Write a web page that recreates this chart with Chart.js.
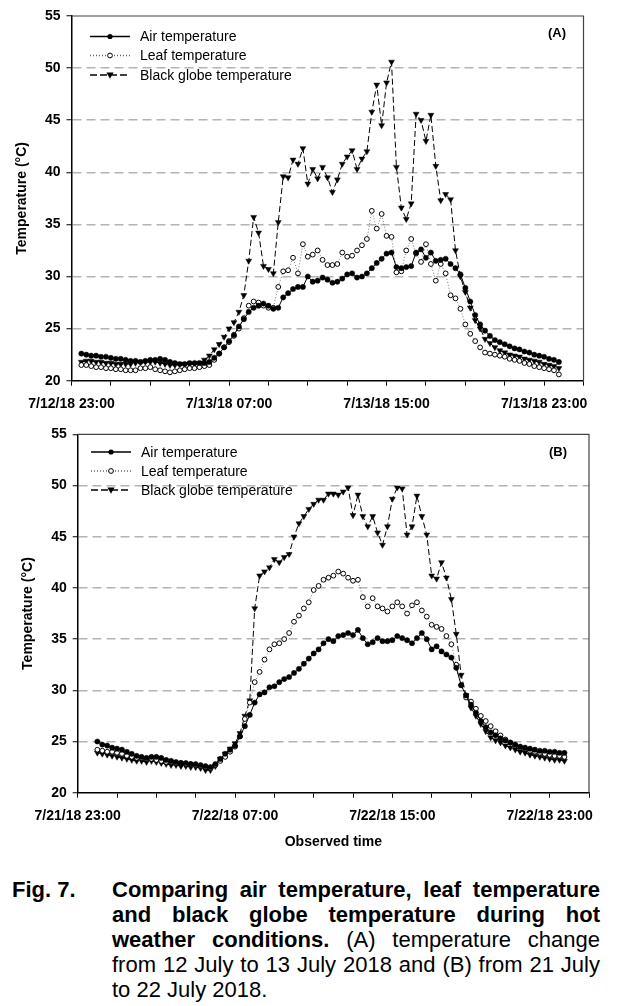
<!DOCTYPE html>
<html>
<head>
<meta charset="utf-8">
<script src="https://cdn.jsdelivr.net/npm/chart.js"></script>
<style>
  body { margin: 0; background: #fff; width: 619px; height: 1006px; position: relative; overflow: hidden; }
  canvas { position: absolute; left: 0; }
  #chartA { top: 0; }
  #chartB { top: 420px; }
  #caption {
    position: absolute; left: 12px; top: 877px; width: 588px;
    font-family: "Liberation Sans", Arial, sans-serif;
    font-size: 22px; line-height: 25px; color: #000;
  }
  #caption .ln { text-align: justify; text-align-last: justify; padding-left: 100px; white-space: nowrap; }
  #caption .ln.first { padding-left: 0; }
  #caption .ln.last { text-align-last: left; }
  #caption .lab { display: inline-block; width: 100px; text-align-last: left; }
</style>
</head>
<body>
<canvas id="chartA" width="619" height="420"></canvas>
<canvas id="chartB" width="619" height="440"></canvas>
<div id="caption">
  <div class="ln first"><b><span class="lab">Fig. 7.</span>Comparing air temperature, leaf temperature</b></div>
  <div class="ln"><b>and black globe temperature during hot</b></div>
  <div class="ln"><b>weather conditions.</b> (A) temperature change</div>
  <div class="ln">from 12 July to 13 July 2018 and (B) from 21 July</div>
  <div class="ln last">to 22 July 2018.</div>
</div>
<script>
// readings every 15 min, hours counted from 23:00 of the first day
const step = 0.25;
const startA = 0.5;
const startB = 1.0;

const seriesNames = ['Air temperature', 'Leaf temperature', 'Black globe temperature'];
const xTickLabelsA = ['7/12/18 23:00', '7/13/18 07:00', '7/13/18 15:00', '7/13/18 23:00'];
const xTickLabelsB = ['7/21/18 23:00', '7/22/18 07:00', '7/22/18 15:00', '7/22/18 23:00'];

// (A) 12-13 July
const airA = [22.6, 22.5,
  22.4, 22.4, 22.3, 22.3,  22.2, 22.1, 22.1, 22.0,  21.9, 21.9, 21.8, 21.9,
  22.0, 22.0, 22.1, 22.0,  21.8, 21.7, 21.6, 21.6,  21.7, 21.7, 21.7, 21.7,
  21.8, 22.2, 22.6, 23.2,  23.8, 24.4, 25.2, 25.9,  26.6, 27.0, 27.2, 27.4,
  27.2, 26.9, 27.0, 28.0,  28.4, 28.8, 29.0, 29.0,  30.0, 29.5, 29.6, 29.9,
  29.7, 29.4, 29.5, 29.8,  30.2, 30.3, 29.9, 30.0,  30.3, 30.8, 31.3, 31.7,
  32.2, 32.3, 30.9, 30.8,  30.9, 31.0, 32.3, 32.6,  31.8, 32.3, 31.5, 31.6,
  31.7, 31.2, 30.8, 30.2,  28.9, 27.6, 26.3, 25.4,  24.8, 24.3, 23.9, 23.7,
  23.5, 23.3, 23.1, 23.0,  22.8, 22.7, 22.5, 22.4,  22.3, 22.1, 22.0, 21.8];
const leafA = [21.5, 21.5,
  21.4, 21.3, 21.3, 21.2,  21.2, 21.1, 21.1, 21.0,  21.0, 21.0, 21.2, 21.2,
  21.3, 21.1, 21.0, 20.9,  20.8, 20.9, 21.0, 21.1,  21.2, 21.2, 21.3, 21.4,
  21.5, 22.0, 22.6, 23.2,  23.7, 24.3, 25.0, 26.0,  27.2, 27.6, 27.5, 27.2,
  27.0, 27.0, 29.0, 30.5,  30.6, 31.8, 30.3, 33.1,  31.9, 32.1, 32.5, 31.6,
  31.1, 31.1, 31.2, 32.3,  31.9, 32.0, 32.5, 33.0,  33.6, 36.3, 34.6, 36.0,
  33.9, 33.8, 30.4, 30.5,  32.5, 33.6, 32.2, 31.4,  33.1, 31.2, 29.6, 31.2,
  30.3, 28.2, 27.9, 26.9,  25.4, 24.5, 23.8, 23.2,  22.7, 22.6, 22.5, 22.4,
  22.3, 22.1, 22.0, 21.9,  21.7, 21.6, 21.4, 21.3,  21.2, 21.1, 21.0, 20.6];
const globeA = [21.8, 21.9,
  21.9, 21.8, 21.8, 21.7,  21.7, 21.6, 21.6, 21.6,  21.6, 21.7, 21.8, 21.8,
  21.8, 21.8, 21.7, 21.6,  21.5, 21.5, 21.6, 21.6,  21.6, 21.6, 21.7, 22.0,
  22.4, 23.0, 23.5, 24.2,  25.0, 25.6, 26.6, 28.2,  31.5, 35.7, 34.2, 31.0,
  30.7, 30.3, 35.2, 39.6,  39.5, 41.2, 40.8, 42.3,  38.9, 40.3, 39.4, 40.5,
  39.5, 38.1, 39.3, 40.8,  41.5, 42.1, 40.3, 41.3,  42.0, 45.8, 48.4, 44.5,
  48.6, 50.6, 40.5, 36.6,  35.5, 37.0, 45.6, 45.0,  43.0, 45.5, 40.6, 37.3,
  37.9, 37.4, 32.5, 30.0,  28.5, 27.0, 25.8, 25.0,  24.0, 23.6, 23.2, 22.9,
  22.7, 22.5, 22.4, 22.3,  22.1, 22.0, 21.9, 21.8,  21.6, 21.5, 21.4, 21.2];

// (B) 21-22 July
const airB = [
  25.0, 24.7, 24.6, 24.4,  24.3, 24.2, 24.0, 23.8,  23.6, 23.5, 23.4, 23.5,
  23.5, 23.4, 23.2, 23.1,  23.0, 22.9, 22.9, 22.8,  22.8, 22.7, 22.6, 22.5,
  22.8, 23.3, 23.8, 24.2,  24.6, 25.5, 26.5, 27.6,  28.8, 29.6, 29.8, 30.3,
  30.4, 30.8, 31.1, 31.3,  31.7, 32.1, 32.6, 33.1,  33.6, 34.0, 34.6, 35.0,
  34.8, 35.3, 35.4, 35.6,  35.4, 35.9, 35.1, 34.5,  34.7, 35.1, 34.8, 34.8,
  34.9, 35.3, 35.1, 34.9,  34.6, 35.1, 35.6, 35.0,  34.0, 34.3, 33.8, 33.5,
  33.2, 32.2, 30.5, 29.5,  28.6, 27.8, 27.0, 26.4,  25.9, 25.6, 25.3, 25.1,
  24.9, 24.7, 24.5, 24.4,  24.3, 24.2, 24.1, 24.1,  24.0, 24.0, 23.9, 23.9];
const leafB = [
  24.2, 24.1, 24.0, 24.0,  23.9, 23.8, 23.6, 23.5,  23.4, 23.4, 23.3, 23.3,
  23.2, 23.1, 23.0, 23.0,  22.9, 22.9, 22.8, 22.8,  22.7, 22.6, 22.5, 22.4,
  22.7, 23.1, 23.5, 24.0,  24.5, 25.5, 27.2, 28.8,  30.8, 31.8, 33.0, 34.0,
  34.5, 34.6, 35.0, 35.6,  36.7, 37.3, 38.0, 38.6,  39.8, 40.2, 40.8, 41.0,
  41.2, 41.6, 41.4, 41.0,  40.7, 40.8, 39.1, 38.2,  39.0, 38.2, 38.0, 37.7,
  38.2, 38.6, 38.2, 37.5,  38.3, 38.6, 37.8, 37.2,  36.4, 36.2, 36.0, 35.3,
  34.5, 32.5, 30.5, 29.3,  28.9, 28.2, 27.5, 27.0,  26.5, 26.0, 25.6, 25.2,
  24.9, 24.6, 24.4, 24.3,  24.1, 24.0, 23.9, 23.8,  23.7, 23.6, 23.6, 23.5];
const globeB = [
  23.9, 23.8, 23.7, 23.6,  23.5, 23.4, 23.3, 23.2,  23.1, 23.1, 23.0, 23.1,
  23.0, 22.9, 22.8, 22.7,  22.7, 22.6, 22.6, 22.5,  22.5, 22.4, 22.2, 22.2,
  22.6, 23.3, 23.8, 24.3,  24.8, 25.8, 27.5, 29.0,  38.0, 41.2, 41.6, 42.0,
  42.8, 42.5, 43.0, 43.3,  45.0, 46.3, 47.0, 47.7,  48.2, 48.6, 48.6, 49.2,
  49.2, 49.1, 49.4, 49.8,  47.1, 49.1, 47.0, 46.0,  47.0, 45.4, 44.2, 46.0,
  48.7, 49.8, 49.7, 45.2,  46.0, 49.0, 47.0, 45.2,  41.2, 40.9, 42.5, 41.0,
  38.9, 35.5, 31.5, 29.5,  28.3, 27.5, 26.7, 26.0,  25.4, 25.1, 24.9, 24.6,
  24.4, 24.2, 24.0, 23.9,  23.7, 23.6, 23.5, 23.4,  23.3, 23.2, 23.2, 23.1];

const FONT = "'Liberation Sans', Arial, sans-serif";

function points(values, start) {
  return values.map((v, i) => ({ x: start + i * step, y: v }));
}

function drawMarker(ctx, style, x, y) {
  ctx.save();
  ctx.lineWidth = 1;
  ctx.strokeStyle = '#000';
  if (style === 'dot') {
    ctx.fillStyle = '#000';
    ctx.beginPath(); ctx.arc(x, y, 2.6, 0, Math.PI * 2); ctx.fill();
  } else if (style === 'ring') {
    ctx.fillStyle = '#fff';
    ctx.beginPath(); ctx.arc(x, y, 2.4, 0, Math.PI * 2); ctx.fill(); ctx.stroke();
  } else {
    ctx.fillStyle = '#000';
    ctx.beginPath();
    ctx.moveTo(x - 3.6, y - 2.4); ctx.lineTo(x + 3.6, y - 2.4); ctx.lineTo(x, y + 3.8);
    ctx.closePath(); ctx.fill();
  }
  ctx.restore();
}

function makeChart(id, air, leaf, globe, start, xLabels, cfg) {
  const decor = {
    id: 'decor',
    afterDraw(chart) {
      const ctx = chart.ctx, a = chart.chartArea;
      ctx.save();
      // frame
      ctx.strokeStyle = '#444';
      ctx.lineWidth = 1.2;
      ctx.beginPath();
      ctx.moveTo(a.left, a.top); ctx.lineTo(a.right, a.top); ctx.lineTo(a.right, a.bottom);
      ctx.stroke();
      // panel label
      ctx.fillStyle = '#000';
      ctx.font = 'bold 13px ' + FONT;
      ctx.textAlign = 'right'; ctx.textBaseline = 'middle';
      ctx.fillText(cfg.panel, cfg.panelX, cfg.panelY);
      // legend
      const styles = ['dot', 'ring', 'tri'];
      const dashes = [[], [1, 2], [7, 3]];
      const colors = ['#000', '#666', '#000'];
      ctx.font = '14px ' + FONT;
      ctx.textAlign = 'left';
      seriesNames.forEach((name, i) => {
        const y = cfg.legendY[i];
        ctx.save();
        ctx.strokeStyle = colors[i]; ctx.lineWidth = 1.3;
        ctx.setLineDash(dashes[i]);
        ctx.beginPath(); ctx.moveTo(cfg.legendX, y); ctx.lineTo(cfg.legendX + 40, y); ctx.stroke();
        ctx.restore();
        drawMarker(ctx, styles[i], cfg.legendX + 20, y);
        ctx.fillStyle = '#000';
        ctx.fillText(name, cfg.legendX + 50, y + 1);
      });
      // axis titles
      ctx.font = 'bold 14px ' + FONT;
      ctx.textAlign = 'center';
      ctx.save();
      ctx.translate(cfg.yTitleX, (a.top + a.bottom) / 2);
      ctx.rotate(-Math.PI / 2);
      ctx.fillText('Temperature (\u00B0C)', 0, 0);
      ctx.restore();
      if (cfg.xTitle) ctx.fillText(cfg.xTitle, (a.left + a.right) / 2, cfg.xTitleY);
      ctx.restore();
    }
  };

  const canvas = document.getElementById(id);
  return new Chart(canvas, {
    type: 'line',
    data: {
      datasets: [
        { label: seriesNames[0], data: points(air, start), borderColor: '#000', borderWidth: 1,
          pointStyle: 'circle', pointRadius: 2.6, pointBackgroundColor: '#000', pointBorderColor: '#000', pointBorderWidth: 0.5 },
        { label: seriesNames[1], data: points(leaf, start), borderColor: '#777', borderWidth: 1, borderDash: [1, 2],
          pointStyle: 'circle', pointRadius: 2.4, pointBackgroundColor: '#fff', pointBorderColor: '#000', pointBorderWidth: 1 },
        { label: seriesNames[2], data: points(globe, start), borderColor: '#000', borderWidth: 1, borderDash: [6, 3],
          pointStyle: 'triangle', pointRotation: 180, pointRadius: 3.4, pointBackgroundColor: '#000', pointBorderColor: '#000', pointBorderWidth: 0.5 }
      ]
    },
    options: {
      responsive: false,
      animation: false,
      events: [],
      layout: { padding: { left: 0, top: cfg.top, right: 619 - cfg.right, bottom: 0 } },
      plugins: { legend: { display: false }, tooltip: { enabled: false } },
      scales: {
        x: {
          type: 'linear', min: 0, max: 26,
          afterFit: s => { s.height = cfg.height - cfg.bottom; },
          border: { color: '#000', width: 1.5 },
          grid: { drawOnChartArea: false, tickLength: 5, tickColor: '#000', tickWidth: 1 },
          ticks: {
            stepSize: 2, autoSkip: false, maxRotation: 0, padding: 10, color: '#000',
            font: { family: FONT, size: 14, weight: 'bold' },
            callback: v => (v % 8 === 0 ? xLabels[v / 8] : '')
          }
        },
        y: {
          min: 20, max: 55,
          afterFit: s => { s.width = cfg.left; },
          border: { color: '#000', width: 1.5, dash: [9, 5] },
          grid: {
            color: c => (c.tick && (c.tick.value === 20 || c.tick.value === 55)) ? 'rgba(0,0,0,0)' : '#b4b4b4',
            lineWidth: 1.5, tickLength: 5, tickColor: '#000', tickWidth: 1
          },
          ticks: { stepSize: 5, padding: 6, color: '#000', font: { family: FONT, size: 14, weight: 'bold' } }
        }
      }
    },
    plugins: [decor]
  });
}

makeChart('chartA', airA, leafA, globeA, startA, xTickLabelsA, {
  left: 71.5, right: 583.5, top: 16, bottom: 380.7, height: 420,
  panel: '(A)', panelX: 566, panelY: 33,
  legendX: 90, legendY: [36.5, 55.5, 75], yTitleX: 22
});
makeChart('chartB', airB, leafB, globeB, startB, xTickLabelsB, {
  left: 77.7, right: 589, top: 9, bottom: 372.7, height: 440,
  panel: '(B)', panelX: 567, panelY: 32,
  legendX: 91, legendY: [32, 51, 70], yTitleX: 28,
  xTitle: 'Observed time', xTitleY: 422
});
</script>
</body>
</html>
